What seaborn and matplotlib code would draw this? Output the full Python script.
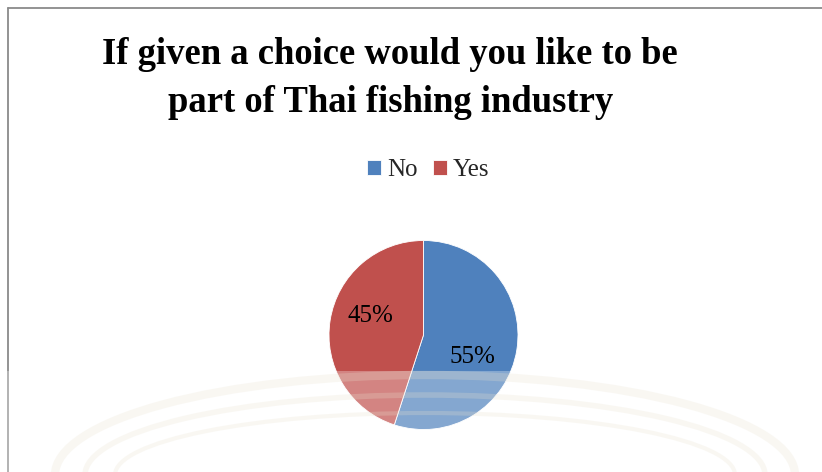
import matplotlib
matplotlib.use("Agg")
import matplotlib.pyplot as plt
from matplotlib.patches import Rectangle, Arc
from matplotlib.lines import Line2D
import seaborn as sns

# Survey answers
categories = ["No", "Yes"]
shares = [55, 45]
title_lines = ["If given a choice would you like to be",
               "part of Thai fishing industry"]

sns.set_theme(style="white")
plt.rcParams["font.family"] = ["Liberation Serif", "DejaVu Serif"]

W, H = 822, 472
fig = plt.figure(figsize=(W / 100, H / 100), dpi=100)
fig.patch.set_facecolor("white")

def fx(px):
    return px / W

def fy(py):
    return 1 - py / H

colors = sns.color_palette(["#4F81BD", "#C0504D"])

# Pie axes: centre (423.5, 335) px, radius 94.5 px
cx, cy, r = 423.5, 335, 94.5
ax = fig.add_axes([fx(cx - r), fy(cy + r), 2 * r / W, 2 * r / H])
wedges, texts, autotexts = ax.pie(
    shares, colors=colors, startangle=90, counterclock=False,
    autopct="%1.0f%%", radius=1.0,
    wedgeprops=dict(edgecolor="white", linewidth=0.6),
    textprops=dict(fontsize=18, color="black"),
)
ax.set_xlim(-1, 1)
ax.set_ylim(-1, 1)
ax.set_aspect("auto")
ax.axis("off")
label_pos = [(0.519, -0.233), (-0.566, 0.201)]
for t, (lx, ly) in zip(autotexts, label_pos):
    t.set_position((lx, ly))
    t.set_ha("center")
    t.set_va("center")

# Title
fig.text(fx(389.5), fy(64.3), title_lines[0], ha="center", va="baseline",
         fontsize=26.4, fontweight="bold", color="black")
fig.text(fx(391), fy(111.7), title_lines[1], ha="center", va="baseline",
         fontsize=26.4, fontweight="bold", color="black")

# Legend
fig.legend(wedges, categories, loc="center", bbox_to_anchor=(fx(428), fy(170)),
           ncol=2, frameon=False, fontsize=18, handlelength=0.56,
           handleheight=0.56, handletextpad=0.25, columnspacing=0.6,
           borderpad=0, borderaxespad=0)

# Chart border (top and left)
fig.add_artist(Line2D([fx(7.5), fx(7.5)], [fy(7.5), 0], color="#8a8a8a",
                      linewidth=1.3, transform=fig.transFigure))
fig.add_artist(Line2D([fx(7.5), 1], [fy(7.5), fy(7.5)], color="#8a8a8a",
                      linewidth=1.3, transform=fig.transFigure))

# Pale wash over the lower band with a faint seal outline
fig.add_artist(Rectangle((0, 0), 1, fy(371), transform=fig.transFigure,
                         facecolor="white", alpha=0.3, edgecolor="none",
                         zorder=10))
for wr, hr, lw in [(370, 100, 6), (340, 80, 4), (310, 62, 3)]:
    fig.add_artist(Arc((fx(425), fy(475)), 2 * wr / W, 2 * hr / H,
                       theta1=0, theta2=180, transform=fig.transFigure,
                       color="#e9e2cf", alpha=0.25, linewidth=lw, zorder=11))

fig.savefig("out.png", dpi=100, facecolor="white")
